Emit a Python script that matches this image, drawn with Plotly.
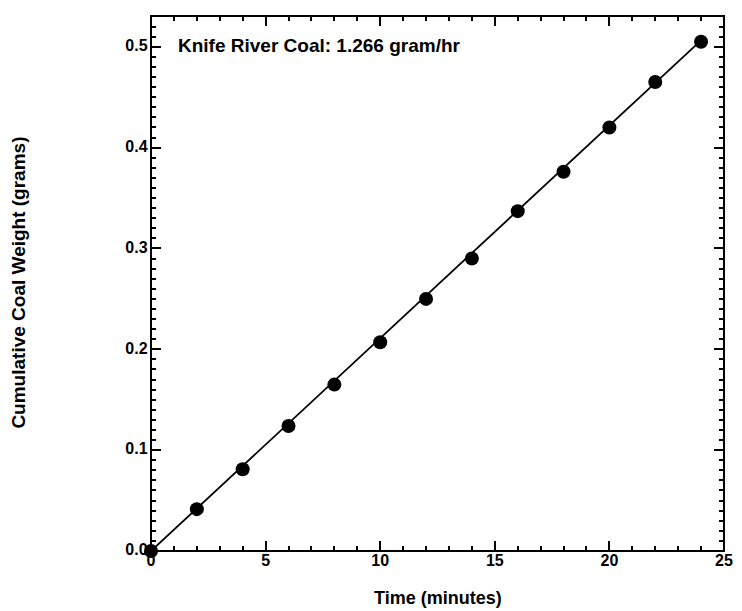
import plotly.graph_objects as go

time_min = [0, 2, 4, 6, 8, 10, 12, 14, 16, 18, 20, 22, 24]
weight_g = [0.0, 0.0415, 0.081, 0.124, 0.165, 0.207, 0.250, 0.290, 0.337, 0.376, 0.420, 0.465, 0.505]
rate_g_per_hr = 1.266
fit_x = [0, 24]
fit_y = [rate_g_per_hr / 60 * x for x in fit_x]

x_tick_vals = [0, 5, 10, 15, 20, 25]
x_tick_text = ["0", "5", "10", "15", "20", "25"]
y_tick_vals = [0.0, 0.1, 0.2, 0.3, 0.4, 0.5]
y_tick_text = ["0.0", "0.1", "0.2", "0.3", "0.4", "0.5"]

FONT = "Liberation Sans, Arial, sans-serif"
SPAN = "<span style='font-family:Liberation Sans, Arial, sans-serif;font-size:16px;fill:black;font-weight:bold'>%s</span>"

fig = go.Figure()
fig.add_trace(go.Scatter(x=fit_x, y=fit_y, mode="lines",
                         line=dict(color="black", width=1.8),
                         showlegend=False, cliponaxis=False))
fig.add_trace(go.Scatter(x=time_min, y=weight_g, mode="markers",
                         marker=dict(color="black", size=14),
                         showlegend=False, cliponaxis=False))

axis_common = dict(
    showgrid=False, showline=True, linecolor="black",
    mirror="ticks", ticks="inside", ticklen=10, tickwidth=2, tickcolor="black",
)

fig.update_layout(
    width=742, height=611,
    margin=dict(l=151, r=9, t=16, b=60),
    plot_bgcolor="white",
    xaxis=dict(range=[0, 25], tickmode="array", tickvals=x_tick_vals,
               ticktext=[SPAN % t for t in x_tick_text],
               minor=dict(dtick=1, ticks="inside", ticklen=5, tickcolor="black"),
               **axis_common),
    yaxis=dict(range=[0, 0.5305], tickmode="array", tickvals=y_tick_vals,
               ticktext=[SPAN % t for t in y_tick_text],
               minor=dict(dtick=0.01, ticks="inside", ticklen=5, tickcolor="black"),
               **axis_common),
    shapes=[dict(type="rect", xref="x domain", yref="y domain", x0=0, x1=1, y0=0, y1=1,
                 line=dict(color="black", width=2), layer="above")],
    annotations=[
        dict(text="<b>Knife River Coal: 1.266 gram/hr</b>", xref="paper", yref="paper",
             x=0.044, y=0.944, xanchor="left", yanchor="middle", showarrow=False,
             font=dict(family=FONT, size=19, color="black")),
        dict(text="<b>Time (minutes)</b>", xref="paper", yref="paper",
             x=0.5, y=-0.087, xanchor="center", yanchor="middle", showarrow=False,
             font=dict(family=FONT, size=18, color="black")),
        dict(text="<b>Cumulative Coal Weight (grams)</b>", xref="paper", yref="paper",
             x=-0.231, y=0.501, xanchor="center", yanchor="middle", showarrow=False,
             textangle=-90, font=dict(family=FONT, size=19, color="black")),
    ],
)

fig.write_html("out.html")
